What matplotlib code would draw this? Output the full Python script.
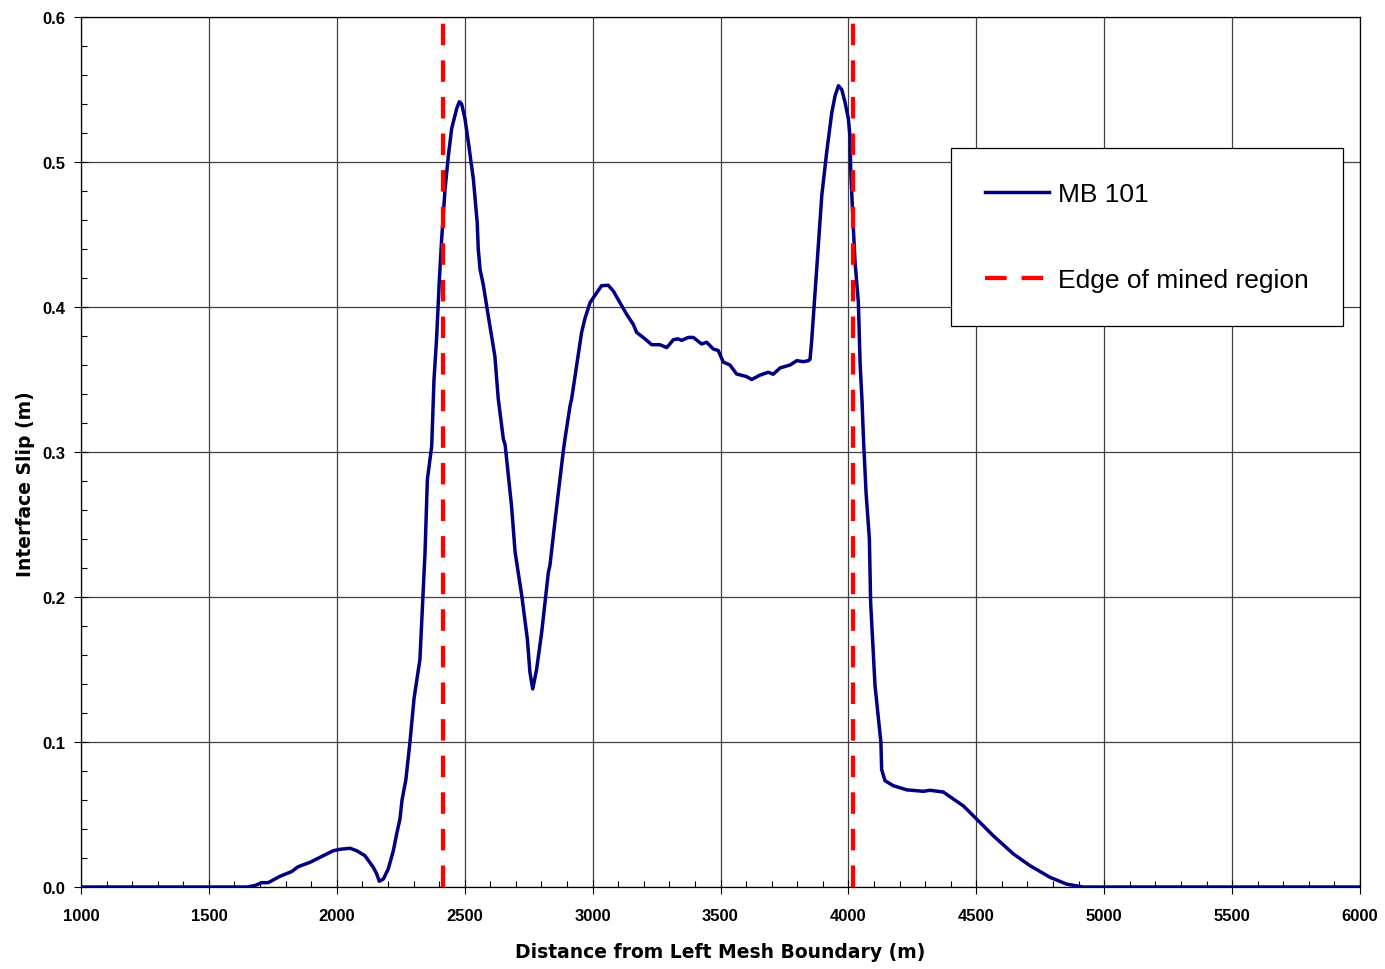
import matplotlib
matplotlib.use("Agg")
import matplotlib.pyplot as plt
from matplotlib.ticker import MultipleLocator, FormatStrFormatter

# ---- data ----
distance = [1000, 1582, 1648, 1680, 1706, 1732, 1778, 1823, 1849, 1895, 1947, 1986,
            2012, 2052, 2078, 2110, 2143, 2156, 2166, 2182, 2201, 2221, 2234, 2247,
            2255, 2270, 2286, 2302, 2325, 2345, 2354, 2371, 2380, 2390, 2401, 2410,
            2423, 2436, 2449, 2469, 2479, 2488, 2501, 2514, 2534, 2549, 2553, 2560,
            2573, 2592, 2618, 2631, 2651, 2658, 2670, 2683, 2697, 2723, 2745, 2755,
            2766, 2781, 2801, 2827, 2833, 2860, 2885, 2892, 2912, 2918, 2931, 2957,
            2970, 2990, 3009, 3035, 3061, 3081, 3107, 3133, 3159, 3172, 3205, 3231,
            3263, 3290, 3316, 3335, 3348, 3374, 3394, 3426, 3446, 3472, 3491, 3511,
            3537, 3563, 3602, 3622, 3654, 3687, 3706, 3733, 3772, 3798, 3824, 3844,
            3850, 3856, 3863, 3876, 3887, 3896, 3915, 3935, 3948, 3961, 3974, 3987,
            4000, 4006, 4009, 4017, 4026, 4039, 4046, 4053, 4060, 4069, 4082, 4087,
            4104, 4127, 4130, 4143, 4175, 4228, 4293, 4319, 4371, 4410, 4449, 4501,
            4566, 4645, 4710, 4788, 4853, 4918, 6000]
slip = [0.0, 0.0, 0.0, 0.001, 0.003, 0.003, 0.0074, 0.0106, 0.014, 0.017, 0.0216, 0.025,
        0.026, 0.0267, 0.025, 0.0216, 0.0135, 0.009, 0.004, 0.0055, 0.0124, 0.025, 0.0366, 0.047,
        0.060, 0.074, 0.100, 0.130, 0.157, 0.231, 0.281, 0.304, 0.350, 0.378, 0.419, 0.447,
        0.481, 0.504, 0.523, 0.537, 0.5416, 0.540, 0.530, 0.514, 0.488, 0.458, 0.440, 0.426,
        0.415, 0.394, 0.366, 0.337, 0.309, 0.305, 0.285, 0.263, 0.231, 0.201, 0.171, 0.148,
        0.1366, 0.150, 0.1757, 0.217, 0.2216, 0.263, 0.300, 0.309, 0.332, 0.3366, 0.352, 0.3825,
        0.392, 0.403, 0.408, 0.4147, 0.415, 0.411, 0.403, 0.395, 0.388, 0.3825, 0.378, 0.374,
        0.374, 0.372, 0.3775, 0.378, 0.377, 0.379, 0.379, 0.3745, 0.3757, 0.371, 0.370, 0.362,
        0.360, 0.3538, 0.352, 0.350, 0.353, 0.355, 0.3536, 0.358, 0.360, 0.363, 0.3623, 0.363,
        0.364, 0.3757, 0.393, 0.426, 0.454, 0.477, 0.5066, 0.534, 0.5457, 0.5526, 0.550, 0.541,
        0.5297, 0.518, 0.495, 0.463, 0.431, 0.403, 0.360, 0.336, 0.305, 0.272, 0.240, 0.196,
        0.139, 0.0998, 0.081, 0.0733, 0.0699, 0.067, 0.066, 0.0667, 0.0655, 0.0607, 0.056, 0.0469,
        0.0354, 0.0228, 0.0147, 0.0067, 0.002, 0.0, 0.0]
mined_edges = [2415, 4018]
x_ticks = [1000, 1500, 2000, 2500, 3000, 3500, 4000, 4500, 5000, 5500, 6000]
y_ticks = [0.0, 0.1, 0.2, 0.3, 0.4, 0.5, 0.6]

plt.rcParams['font.family'] = ['Liberation Sans', 'DejaVu Sans']

fig = plt.figure(figsize=(13.85, 9.70), dpi=100)
ax = fig.add_axes([81/1385, 1-888/970, (1360-81)/1385, (888-18)/970])

ax.grid(True, which='major', color='#404040', linewidth=0.9)
ax.set_axisbelow(True)

ax.plot(distance, slip, color='#000080', linewidth=2.5, label='MB 101', zorder=3)
for i, xe in enumerate(mined_edges):
    ax.axvline(xe, color='#ff0000', linewidth=3.1, dashes=(5.0, 3.5),
               label='Edge of mined region' if i == 0 else None, zorder=4)

ax.set_xlim(1000, 6000)
ax.set_ylim(0.0, 0.6)
ax.set_xticks(x_ticks)
ax.set_yticks(y_ticks)
ax.xaxis.set_minor_locator(MultipleLocator(100))
ax.yaxis.set_minor_locator(MultipleLocator(0.02))
ax.yaxis.set_major_formatter(FormatStrFormatter('%.1f'))
ax.tick_params(which='major', direction='inout', length=10, width=0.8, labelsize=12)
ax.tick_params(axis='x', which='major', pad=10)
ax.tick_params(axis='y', which='major', pad=6)
ax.tick_params(which='minor', direction='in', length=4, width=0.8)
for lab in ax.get_xticklabels() + ax.get_yticklabels():
    lab.set_fontweight('bold')
for s in ax.spines.values():
    s.set_color('black')
    s.set_linewidth(0.9)

ax.set_xlabel('Distance from Left Mesh Boundary (m)', fontsize=13.5, fontweight='bold',
              family=['DejaVu Sans'], va='center')
ax.xaxis.set_label_coords((720-81)/1279, (888-953)/870)
ax.set_ylabel('Interface Slip (m)', fontsize=13.5, fontweight='bold',
              family=['DejaVu Sans'], va='center')
ax.yaxis.set_label_coords((26-81)/1279, (888-484)/870)

leg = ax.legend(loc='upper left', bbox_to_anchor=((951-81)/1279, (888-149)/870),
                fontsize=19, frameon=True, fancybox=False, shadow=False,
                borderpad=1.28, labelspacing=2.35, handlelength=2.45, handletextpad=0.34,
                borderaxespad=0.0)
leg.get_frame().set_edgecolor('black')
leg.get_frame().set_linewidth(0.9)
leg.get_frame().set_alpha(1.0)

fig.savefig('out.png', dpi=100)
